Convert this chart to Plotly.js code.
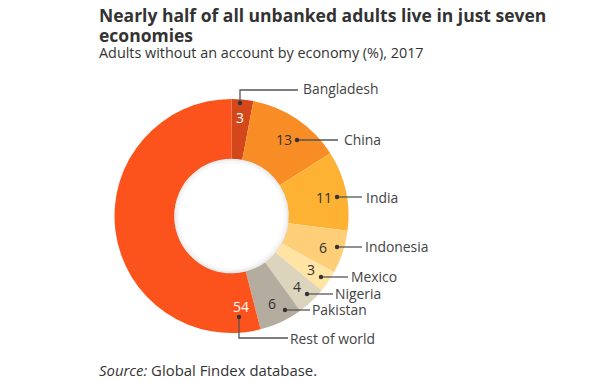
<!DOCTYPE html>
<html>
<head>
<meta charset="utf-8">
<script src="https://cdn.plot.ly/plotly-3.0.1.min.js"></script>
<style>html,body{margin:0;padding:0;background:#fff;}#chart{width:611px;height:381px;}</style>
</head>
<body>
<div id="chart"></div>
<script>
// ---- data ----
const economies = ['Bangladesh', 'China', 'India', 'Indonesia', 'Mexico', 'Nigeria', 'Pakistan', 'Rest of world'];
const shares = [3, 13, 11, 6, 3, 4, 6, 54];
const titleLines = ['Nearly half of all unbanked adults live in just seven', 'economies'];
const subtitleText = 'Adults without an account by economy (%), 2017';
const sourceText = '<i>Source:</i> Global Findex database.';

// ---- styles ----
const sliceColors = ['#D3471B', '#F98D25', '#FDB233', '#FECE78', '#FFE4A4', '#DCD4BC', '#B4AC9E', '#FB531B'];
const valueColors = ['#ffffff', '#333333', '#333333', '#333333', '#333333', '#333333', '#333333', '#ffffff'];
// layout positions in pixels: value text (x,y), dot (x,y), line path end, label (x,y)
const W = 611, H = 381;
const placements = [
  {vx: 240, vy: 118, dx: 240, dy: 103, path: [[240, 90], [298, 90]], lx: 301, ly: 89},
  {vx: 284, vy: 140, dx: 297, dy: 140, path: [[338, 140]], lx: 342, ly: 140},
  {vx: 324, vy: 197, dx: 337, dy: 197, path: [[362, 197]], lx: 364, ly: 197},
  {vx: 323, vy: 247, dx: 337, dy: 247, path: [[362, 247]], lx: 363, ly: 246},
  {vx: 311, vy: 269, dx: 321, dy: 277, path: [[348, 277]], lx: 349, ly: 276},
  {vx: 297, vy: 286, dx: 307, dy: 294, path: [[333, 294]], lx: 333, ly: 293},
  {vx: 272, vy: 303, dx: 285, dy: 310, path: [[310, 310]], lx: 310, ly: 309},
  {vx: 241, vy: 306, dx: 239, dy: 317, path: [[239, 338], [288, 338]], lx: 288, ly: 338}
];
const px = x => x / W;
const py = y => 1 - y / H;
const FONT = '"Open Sans", Lato, sans-serif';

const annotations = [];
const shapes = [];
economies.forEach((name, i) => {
  const p = placements[i];
  annotations.push({
    xref: 'paper', yref: 'paper', x: px(p.vx), y: py(p.vy),
    text: String(shares[i]), showarrow: false, xanchor: 'center', yanchor: 'middle',
    font: {family: FONT, size: 14, color: valueColors[i]}
  });
  annotations.push({
    xref: 'paper', yref: 'paper', x: px(p.lx), y: py(p.ly),
    text: name, showarrow: false, xanchor: 'left', yanchor: 'middle',
    font: {family: FONT, size: 13.9, color: '#444444'}
  });
  let d = 'M' + px(p.dx) + ',' + py(p.dy);
  p.path.forEach(pt => { d += ' L' + px(pt[0]) + ',' + py(pt[1]); });
  shapes.push({type: 'path', xref: 'paper', yref: 'paper', path: d,
    line: {color: '#555555', width: 1.3}});
  const r = 2.2;
  shapes.push({type: 'circle', xref: 'paper', yref: 'paper',
    x0: px(p.dx - r), x1: px(p.dx + r), y0: py(p.dy + r), y1: py(p.dy - r),
    fillcolor: '#333333', line: {width: 0}});
});

// soft inner shadow of the hole
const cx = 231.5, cy = 216, hr = 0.49 * 117;
[[0.6, 1.4, 'rgba(0,0,0,0.08)'], [1.9, 1.4, 'rgba(0,0,0,0.055)'],
 [3.2, 1.4, 'rgba(0,0,0,0.035)'], [4.6, 1.6, 'rgba(0,0,0,0.018)']].forEach(([off, w, c]) => {
  const rr = hr - off;
  shapes.push({type: 'circle', xref: 'paper', yref: 'paper', layer: 'above',
    x0: px(cx - rr), x1: px(cx + rr), y0: py(cy + rr), y1: py(cy - rr),
    line: {color: c, width: w}});
});

annotations.push({
  xref: 'paper', yref: 'paper', x: px(97), y: py(25),
  text: titleLines.map(t => '<b><span style="font-size:17.5px">' + t + '</span></b>').join('<br>'),
  showarrow: false, xanchor: 'left', yanchor: 'middle', align: 'left',
  font: {family: FONT, size: 15.4, color: '#333333'}
});
annotations.push({
  xref: 'paper', yref: 'paper', x: px(97), y: py(52), text: subtitleText,
  showarrow: false, xanchor: 'left', yanchor: 'middle',
  font: {family: FONT, size: 14.4, color: '#333333'}
});
annotations.push({
  xref: 'paper', yref: 'paper', x: px(97), y: py(370), text: sourceText,
  showarrow: false, xanchor: 'left', yanchor: 'middle',
  font: {family: FONT, size: 14.9, color: '#333333'}
});

const trace = {
  type: 'pie',
  labels: economies,
  values: shares,
  sort: false,
  direction: 'clockwise',
  rotation: 0,
  hole: 0.49,
  textinfo: 'none',
  marker: {colors: sliceColors, line: {width: 0}},
  domain: {x: [px(114.5), px(348.5)], y: [py(333), py(99)]},
  showlegend: false
};

const layout = {
  width: W, height: H,
  margin: {l: 0, r: 0, t: 0, b: 0},
  paper_bgcolor: '#ffffff',
  annotations: annotations,
  shapes: shapes
};

Plotly.newPlot('chart', [trace], layout, {displayModeBar: false, staticPlot: true});
</script>
</body>
</html>
